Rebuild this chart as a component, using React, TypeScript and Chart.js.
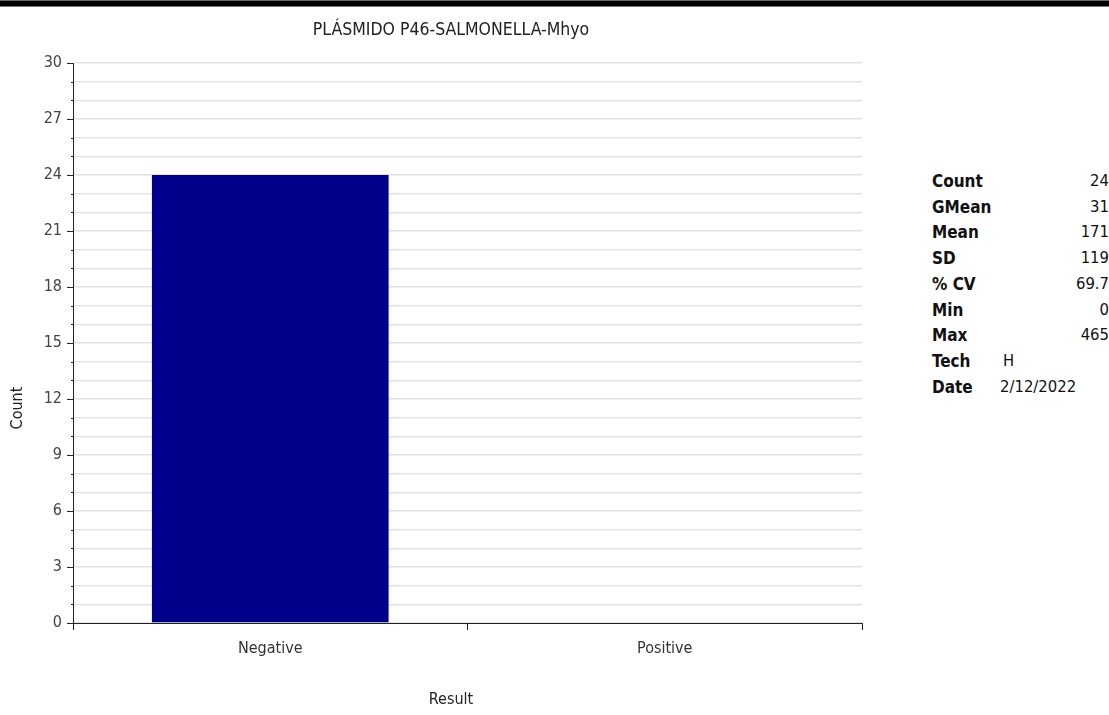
import React, { useEffect, useRef } from "react";
import { Chart, registerables } from "chart.js";

Chart.register(...registerables);

const chartTitle = "PLÁSMIDO P46-SALMONELLA-Mhyo";
const categories = ["Negative", "Positive"];
const counts = [24, 0];
const yMax = 30;
const yLabelStep = 3;
const xAxisTitle = "Result";
const yAxisTitle = "Count";
const statLabels = ["Count", "GMean", "Mean", "SD", "% CV", "Min", "Max", "Tech", "Date"];
const statValues = ["24", "31", "171", "119", "69.7", "0", "465", "H", "2/12/2022"];
const leftAlignedStats = ["Tech", "Date"];

const FONT = '"DejaVu Sans Condensed", "Liberation Sans Narrow", "Open Sans", sans-serif';

const decorPlugin = {
  id: "decor",
  afterDraw(chart: any) {
    const ctx = chart.ctx;
    const y = chart.scales.y;
    const area = chart.chartArea;
    ctx.save();
    ctx.strokeStyle = "#222";
    ctx.lineWidth = 1;
    for (let v = 0; v <= yMax; v++) {
      const py = Math.round(y.getPixelForValue(v)) + 0.5;
      const major = v % yLabelStep === 0;
      ctx.beginPath();
      ctx.moveTo(area.left - (major ? 6 : 2), py);
      ctx.lineTo(area.left, py);
      ctx.stroke();
    }
    ctx.beginPath();
    ctx.moveTo(area.left + 0.5, area.bottom);
    ctx.lineTo(area.left + 0.5, area.bottom + 4);
    ctx.stroke();
    ctx.fillStyle = "#222";
    ctx.textAlign = "center";
    ctx.textBaseline = "middle";
    ctx.font = "17.5px " + FONT;
    ctx.fillText(chartTitle, 451, 30);
    ctx.font = "16px " + FONT;
    ctx.fillText(xAxisTitle, 451, 700);
    ctx.translate(18, 408);
    ctx.rotate(-Math.PI / 2);
    ctx.fillText(yAxisTitle, 0, 0);
    ctx.restore();
  },
};

export default function App() {
  const ref = useRef<HTMLCanvasElement>(null);
  useEffect(() => {
    const chart = new Chart(ref.current as HTMLCanvasElement, {
      type: "bar",
      data: {
        labels: categories,
        datasets: [
          {
            data: counts,
            backgroundColor: "#00008b",
            borderWidth: 0,
            barPercentage: 0.6,
            categoryPercentage: 1,
          },
        ],
      },
      options: {
        responsive: false,
        animation: false,
        layout: { padding: { top: 63, right: 40, left: 0, bottom: 0 } },
        plugins: { legend: { display: false }, title: { display: false }, tooltip: { enabled: false } },
        scales: {
          x: {
            afterFit(scale: any) {
              scale.height = 92;
            },
            grid: { display: true, drawOnChartArea: false, drawTicks: true, tickLength: 7, color: "#222", offset: true },
            border: { display: true, color: "#222", width: 1 },
            ticks: { color: "#333", font: { family: FONT, size: 16 }, padding: 9 },
          },
          y: {
            min: 0,
            max: yMax,
            afterFit(scale: any) {
              scale.width = 73;
            },
            ticks: {
              stepSize: 1,
              autoSkip: false,
              color: "#444",
              font: { family: FONT, size: 16 },
              padding: 11,
              callback: (v: any) => (Number(v) % yLabelStep === 0 ? String(v) : ""),
            },
            grid: { drawTicks: false, color: "#e2e2e2", lineWidth: 1.5 },
            border: { display: true, color: "#222", width: 1 },
          },
        },
      },
      plugins: [decorPlugin],
    });
    return () => chart.destroy();
  }, []);

  return (
    <div
      style={{
        position: "fixed",
        left: 0,
        top: 0,
        width: 1109,
        height: 715,
        overflow: "hidden",
        background: "#fff",
      }}
    >
      <div
        style={{
          position: "absolute",
          left: 0,
          top: 0,
          width: 1109,
          height: 7,
          background: "linear-gradient(#9a9a9a 0%, #000 22%, #000 78%, #aaa 100%)",
        }}
      />
      <canvas ref={ref} width={902} height={715} style={{ position: "absolute", left: 0, top: 0 }} />
      {statLabels.map((lab, i) => {
        const top = 181 + i * 25.7 - 10;
        const left = leftAlignedStats.includes(lab);
        return (
          <React.Fragment key={lab}>
            <div
              style={{
                position: "absolute",
                left: 932,
                top,
                font: "bold 17px " + FONT,
                color: "#111",
                lineHeight: "20px",
                whiteSpace: "nowrap",
              }}
            >
              {lab}
            </div>
            <div
              style={{
                position: "absolute",
                top,
                font: "16.5px " + FONT,
                color: "#111",
                lineHeight: "20px",
                whiteSpace: "nowrap",
                ...(left ? { left: lab === "Tech" ? 1003 : 1000 } : { right: 0, textAlign: "right" as const }),
              }}
            >
              {statValues[i]}
            </div>
          </React.Fragment>
        );
      })}
    </div>
  );
}
